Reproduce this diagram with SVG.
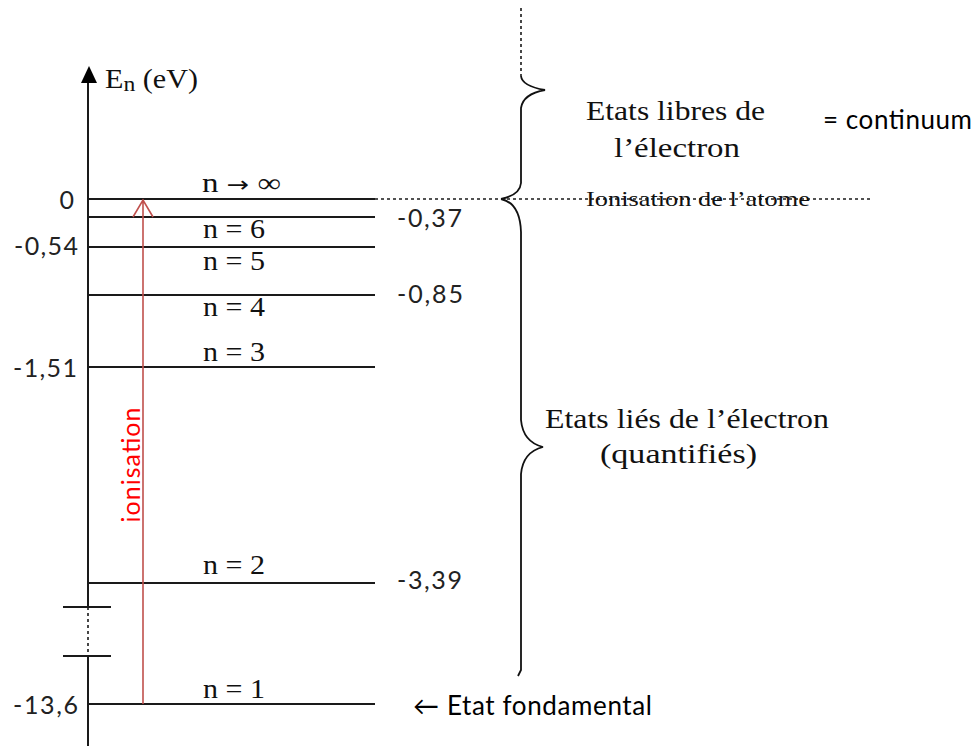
<svg xmlns="http://www.w3.org/2000/svg" width="977" height="746" viewBox="0 0 977 746">
  <style>
    .ln { stroke: #1a1a1a; stroke-width: 2; fill: none; }
    .dot { stroke: #1a1a1a; stroke-width: 1.6; fill: none; stroke-dasharray: 3 3; }
    .lvl { font-family: "Liberation Serif", "DejaVu Serif", serif; font-size: 27px; fill: #111; }
    .val { font-family: Lato, "Liberation Sans", sans-serif; font-size: 25px; fill: #222; }
    .cap { font-family: "Liberation Serif", "DejaVu Serif", serif; font-size: 28px; fill: #111; }
    .note { font-family: Lato, "Liberation Sans", sans-serif; font-size: 26px; fill: #000; }
  </style>
  <rect width="977" height="746" fill="#fff"/>

  <!-- energy axis -->
  <g id="axis">
    <path class="ln" d="M88,80 V607 M88,656 V746"/>
    <path class="dot" d="M88,607 V656"/>
    <path d="M89,66 L81,83 L97,83 Z" fill="#000"/>
    <path class="ln" d="M63,607 H111 M63,656 H111"/>
    <text class="cap" x="105" y="88" textLength="93" lengthAdjust="spacingAndGlyphs">E<tspan font-size="22" dy="3">n</tspan><tspan dy="-3"> (eV)</tspan></text>
  </g>

  <!-- energy levels -->
  <g id="level-inf">
    <path class="ln" d="M88,199 H375"/>
    <text class="lvl" x="202" y="192" textLength="79" lengthAdjust="spacingAndGlyphs">n <tspan font-family="'DejaVu Sans', sans-serif" font-size="22">→</tspan> ∞</text>
    <text class="val" x="74" y="209" text-anchor="end">0</text>
  </g>
  <g id="level-6">
    <path class="ln" d="M88,217 H375"/>
    <text class="lvl" x="203" y="238" textLength="62" lengthAdjust="spacingAndGlyphs">n = 6</text>
    <text class="val" x="397" y="227" textLength="65">-0,37</text>
  </g>
  <g id="level-5">
    <path class="ln" d="M88,247 H375"/>
    <text class="lvl" x="203" y="270" textLength="62" lengthAdjust="spacingAndGlyphs">n = 5</text>
    <text class="val" x="14" y="255" textLength="64">-0,54</text>
  </g>
  <g id="level-4">
    <path class="ln" d="M88,295 H375"/>
    <text class="lvl" x="203" y="316" textLength="62" lengthAdjust="spacingAndGlyphs">n = 4</text>
    <text class="val" x="397" y="303" textLength="66">-0,85</text>
  </g>
  <g id="level-3">
    <path class="ln" d="M88,367 H375"/>
    <text class="lvl" x="203" y="361" textLength="62" lengthAdjust="spacingAndGlyphs">n = 3</text>
    <text class="val" x="13" y="377" textLength="64">-1,51</text>
  </g>
  <g id="level-2">
    <path class="ln" d="M88,583 H375"/>
    <text class="lvl" x="203" y="574" textLength="62" lengthAdjust="spacingAndGlyphs">n = 2</text>
    <text class="val" x="397" y="589" textLength="65">-3,39</text>
  </g>
  <g id="level-1">
    <path class="ln" d="M88,704 H375"/>
    <text class="lvl" x="203" y="698" textLength="62" lengthAdjust="spacingAndGlyphs">n = 1</text>
    <text class="val" x="13" y="714" textLength="65">-13,6</text>
  </g>

  <!-- connectors: ionisation arrow and ionisation threshold -->
  <g id="connectors">
    <path d="M143,704 V200 M133,217 L143,200 L153,217" stroke="#c0504d" stroke-width="1.6" fill="none"/>
    <path class="dot" d="M375,199 H870"/>
  </g>

  <g id="ionisation-label">
    <text x="140" y="465" transform="rotate(-90 140 465)" text-anchor="middle" font-family="Lato, 'Liberation Sans', sans-serif" font-size="25" fill="#ff0000" textLength="115">ionisation</text>
  </g>

  <!-- braces -->
  <g id="brace-free">
    <path class="dot" d="M521,8 V76"/>
    <path d="M521,76 Q522,86 545,90 Q523,94 521,108 V183 Q520,195 501,199" stroke="#111" stroke-width="1.8" fill="none"/>
    <text class="cap" x="586" y="120" textLength="179" lengthAdjust="spacingAndGlyphs">Etats libres de</text>
    <text class="cap" x="614" y="157" textLength="126" lengthAdjust="spacingAndGlyphs">l’électron</text>
    <text class="note" x="823" y="129" textLength="149">= continuum</text>
  </g>
  <g id="brace-bound">
    <path d="M501,199 Q520,203 521,232 V420 Q523,442 543,447 Q523,452 521,474 V670 L518,676" stroke="#111" stroke-width="1.8" fill="none"/>
    <text class="cap" x="545" y="428" textLength="284" lengthAdjust="spacingAndGlyphs">Etats liés de l’électron</text>
    <text class="cap" x="600" y="463" textLength="157" lengthAdjust="spacingAndGlyphs">(quantifiés)</text>
  </g>

  <g id="threshold-label">
    <text x="586" y="206" font-family="'Liberation Serif', serif" font-size="21" fill="#111" textLength="224" lengthAdjust="spacingAndGlyphs">Ionisation de l’atome</text>
  </g>

  <g id="ground-label">
    <text class="note" x="413" y="715" textLength="239">← Etat fondamental</text>
  </g>
</svg>
